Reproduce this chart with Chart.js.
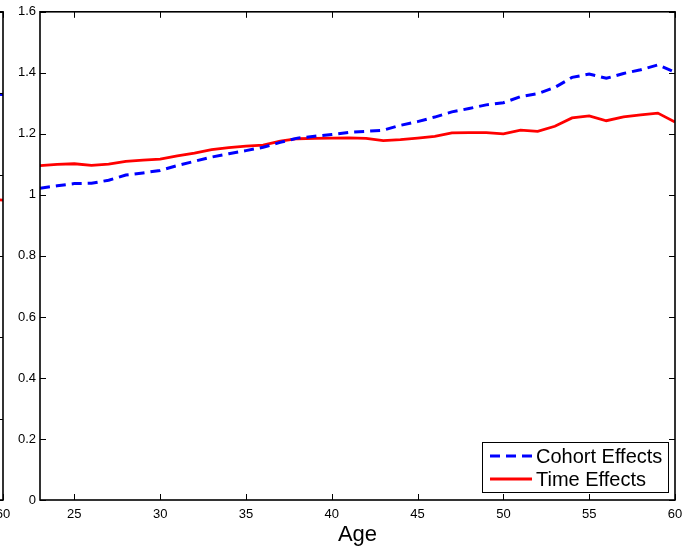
<!DOCTYPE html>
<html>
<head>
<meta charset="utf-8">
<script src="https://cdn.jsdelivr.net/npm/chart.js@4.4.1/dist/chart.umd.min.js"></script>
<style>
  html, body { margin: 0; padding: 0; background: #fff; overflow: hidden; }
  #wrap { position: relative; width: 697px; height: 552px; overflow: hidden; }
  canvas { position: absolute; top: 0; }
  #main { left: 0; }
  #prev { left: -672px; }
</style>
</head>
<body>
<div id="wrap">
  <canvas id="prev" width="697" height="552"></canvas>
  <canvas id="main" width="697" height="552"></canvas>
</div>
<script>
// main panel
const ages = [23, 24, 25, 26, 27, 28, 29, 30, 31, 32, 33, 34, 35, 36, 37, 38, 39, 40, 41,
  42, 43, 44, 45, 46, 47, 48, 49, 50, 51, 52, 53, 54, 55, 56, 57, 58, 59, 60];
const cohortEffects = [1.022, 1.030, 1.037, 1.038, 1.048, 1.065, 1.072, 1.080, 1.096, 1.110,
  1.124, 1.135, 1.145, 1.156, 1.172, 1.186, 1.192, 1.198, 1.205, 1.208, 1.212, 1.228, 1.240,
  1.255, 1.272, 1.283, 1.295, 1.302, 1.322, 1.332, 1.352, 1.385, 1.396, 1.382, 1.398, 1.410,
  1.426, 1.402];
const timeEffects = [1.096, 1.100, 1.102, 1.097, 1.101, 1.110, 1.114, 1.117, 1.128, 1.137,
  1.148, 1.155, 1.160, 1.163, 1.176, 1.184, 1.185, 1.186, 1.187, 1.185, 1.178, 1.181, 1.186,
  1.192, 1.203, 1.204, 1.204, 1.200, 1.212, 1.208, 1.225, 1.252, 1.259, 1.243, 1.256, 1.262,
  1.268, 1.239];
const xTicks = [25, 30, 35, 40, 45, 50, 55, 60];
const seriesNames = ["Cohort Effects", "Time Effects"];

// edge of the neighbouring panel (only its right border shows)
const prevAges = [59, 60];
const prevCohort = [0.998, 0.997];
const prevTime = [0.740, 0.737];

const FONT = "'Liberation Sans', Arial, Helvetica, sans-serif";

const pts = (xs, ys) => xs.map((x, i) => ({ x: x, y: ys[i] }));

// box with inward ticks on all four sides, like a matlab axes
const matlabBox = {
  id: "matlabBox",
  afterDatasetsDraw(chart) {
    const { ctx, chartArea: a, scales } = chart;
    const len = 6;
    ctx.save();
    ctx.strokeStyle = "#000";
    ctx.lineWidth = 1;
    ctx.beginPath();
    scales.x.ticks.forEach(t => {
      const px = Math.round(scales.x.getPixelForValue(t.value)) + 0.5;
      ctx.moveTo(px, a.bottom); ctx.lineTo(px, a.bottom - len);
      ctx.moveTo(px, a.top); ctx.lineTo(px, a.top + len);
    });
    scales.y.ticks.forEach(t => {
      const py = Math.round(scales.y.getPixelForValue(t.value)) + 0.5;
      ctx.moveTo(a.left, py); ctx.lineTo(a.left + len, py);
      ctx.moveTo(a.right, py); ctx.lineTo(a.right - len, py);
    });
    ctx.stroke();
    ctx.lineWidth = 1.6;
    ctx.strokeRect(a.left, a.top, a.right - a.left, a.bottom - a.top);
    ctx.restore();
  }
};

const boxLegend = {
  id: "boxLegend",
  afterDraw(chart) {
    if (!chart.options.plugins.boxLegend.show) return;
    const { ctx, chartArea: a } = chart;
    const w = 186, h = 50;
    const x0 = a.right - 7 - w, y0 = a.bottom - 8 - h;
    ctx.save();
    ctx.fillStyle = "#fff";
    ctx.fillRect(x0, y0, w, h);
    ctx.strokeStyle = "#000";
    ctx.lineWidth = 1;
    ctx.strokeRect(x0 + 0.5, y0 + 0.5, w, h);
    chart.data.datasets.forEach((ds, i) => {
      const cy = y0 + 14 + i * 23;
      ctx.strokeStyle = ds.borderColor;
      ctx.lineWidth = ds.borderWidth;
      ctx.setLineDash(ds.borderDash || []);
      ctx.beginPath();
      ctx.moveTo(x0 + 8, cy);
      ctx.lineTo(x0 + 50, cy);
      ctx.stroke();
      ctx.setLineDash([]);
      ctx.fillStyle = "#000";
      ctx.font = "20px " + FONT;
      ctx.textBaseline = "middle";
      ctx.fillText(ds.label, x0 + 54, cy + 1);
    });
    ctx.restore();
  }
};

function makeChart(id, xs, cohort, time, yMax, showLegend, dashOffset) {
  return new Chart(document.getElementById(id), {
    type: "line",
    plugins: [matlabBox, boxLegend],
    data: {
      datasets: [
        {
          label: seriesNames[0],
          data: pts(xs, cohort),
          borderColor: "#0000ff",
          borderWidth: 3,
          borderDash: [10, 6],
          borderDashOffset: dashOffset,
          pointRadius: 0,
          tension: 0,
        },
        {
          label: seriesNames[1],
          data: pts(xs, time),
          borderColor: "#ff0000",
          borderWidth: 2.8,
          pointRadius: 0,
          tension: 0,
        },
      ],
    },
    options: {
      responsive: false,
      animation: false,
      events: [],
      layout: { padding: { top: 10, right: 22, bottom: 0, left: 0 } },
      plugins: {
        legend: { display: false },
        tooltip: { enabled: false },
        boxLegend: { show: showLegend },
      },
      scales: {
        x: {
          type: "linear",
          min: 23,
          max: 60,
          afterBuildTicks: s => { s.ticks = xTicks.map(v => ({ value: v })); },
          afterFit: s => { s.height = 52; },
          grid: { display: false, drawTicks: false },
          border: { display: false },
          ticks: {
            color: "#000",
            padding: 7,
            maxRotation: 0,
            font: { family: FONT, size: 13 },
          },
          title: {
            display: showLegend,
            text: "Age",
            color: "#000",
            font: { family: FONT, size: 22 },
            padding: { top: 0, bottom: 4 },
          },
        },
        y: {
          min: 0,
          max: yMax,
          afterFit: s => { s.width = 40; },
          grid: { display: false, drawTicks: false },
          border: { display: false },
          ticks: {
            stepSize: 0.2,
            color: "#000",
            padding: 4,
            font: { family: FONT, size: 13 },
            callback: v => String(Number(v.toFixed(1))),
          },
        },
      },
    },
  });
}

makeChart("prev", prevAges, prevCohort, prevTime, 1.2, false, 8);
makeChart("main", ages, cohortEffects, timeEffects, 1.6, true, 0);
</script>
</body>
</html>
